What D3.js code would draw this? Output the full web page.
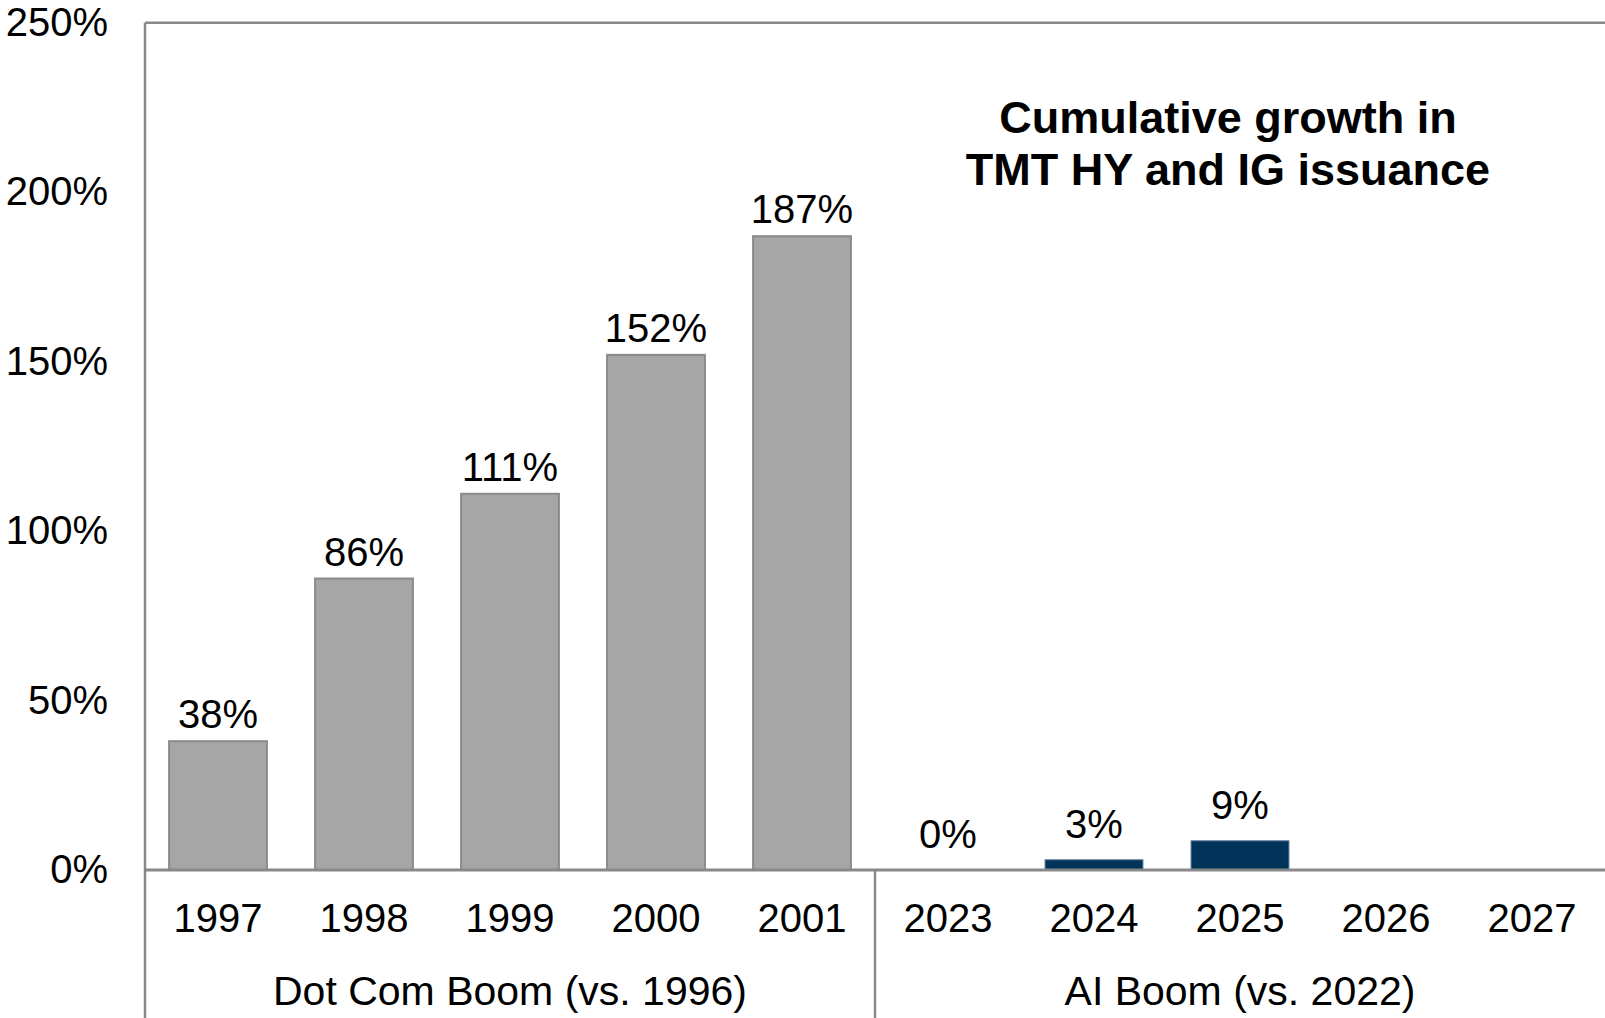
<!DOCTYPE html>
<html>
<head>
<meta charset="utf-8">
<script src="https://cdn.jsdelivr.net/npm/d3@7"></script>
<style>
  body { margin: 0; background: #fff; }
  text { font-family: "Liberation Sans", Arial, sans-serif; fill: #000; }
</style>
</head>
<body>
<div id="chart"></div>
<script>
// data
var years = ["1997", "1998", "1999", "2000", "2001", "2023", "2024", "2025", "2026", "2027"];
var growth = [38, 86, 111, 152, 187, 0, 3, 8.6, null, null];
var era = ["dot", "dot", "dot", "dot", "dot", "ai", "ai", "ai", "ai", "ai"];
var groups = ["Dot Com Boom (vs. 1996)", "AI Boom (vs. 2022)"];
var groupKeys = ["dot", "ai"];
var yTicks = [0, 50, 100, 150, 200, 250];
var titleLines = ["Cumulative growth in", "TMT HY and IG issuance"];

var fillColor = {dot: "#a6a6a6", ai: "#00345b"};
var strokeColor = {dot: "#898989", ai: "#4f6f8f"};
var lineColor = "#888";

// set the dimensions and margins of the graph
var width = 1605, height = 1018;
var margin = {top: 22.7, left: 145, right: 0, zero: 870};

var svg = d3.select("#chart")
  .append("svg")
    .attr("width", width)
    .attr("height", height);

var data = years.map(function(d, i) { return {year: d, value: growth[i], era: era[i]}; });

var slot = d3.scaleBand().domain(years).range([margin.left, width]);
var x = d3.scaleBand().domain(years).range([margin.left, width])
  .paddingInner(0.33).paddingOuter(0.165);
var y = d3.scaleLinear().domain([0, 250]).range([margin.zero, margin.top]);

// y axis labels
var yAxis = svg.append("g")
  .attr("transform", "translate(" + margin.left + ",0)")
  .call(d3.axisLeft(y).tickValues(yTicks).tickSize(0).tickPadding(37)
    .tickFormat(function(d) { return d + "%"; }));
yAxis.select(".domain").remove();
yAxis.selectAll("text").style("font-size", "40px").attr("font-family", null);

// bars
svg.selectAll("rect.bar")
  .data(data.filter(function(d) { return d.value !== null; }))
  .enter()
  .append("rect")
    .attr("class", "bar")
    .attr("x", function(d) { return x(d.year); })
    .attr("width", x.bandwidth())
    .attr("y", function(d) { return y(d.value); })
    .attr("height", function(d) { return y(0) - y(d.value); })
    .attr("fill", function(d) { return fillColor[d.era]; })
    .attr("stroke", function(d) { return strokeColor[d.era]; })
    .attr("stroke-width", function(d) { return d.era == "dot" ? 2 : 1; });

// value labels
svg.selectAll("text.val")
  .data(data.filter(function(d) { return d.value !== null; }))
  .enter()
  .append("text")
    .attr("class", "val")
    .attr("x", function(d) { return x(d.year) + x.bandwidth() / 2; })
    .attr("y", function(d) { return y(d.value) - (d.era == "dot" ? 13 : 22); })
    .attr("text-anchor", "middle")
    .style("font-size", "40px")
    .text(function(d) { return Math.round(d.value) + "%"; });

// frame lines
svg.append("line")
  .attr("x1", margin.left).attr("x2", width)
  .attr("y1", margin.top).attr("y2", margin.top)
  .attr("stroke", lineColor).attr("stroke-width", 2.5);
svg.append("line")
  .attr("x1", margin.left).attr("x2", margin.left)
  .attr("y1", margin.top).attr("y2", height)
  .attr("stroke", lineColor).attr("stroke-width", 2.5);

// category axis
var xAxis = svg.append("g")
  .attr("transform", "translate(0," + y(0) + ")")
  .call(d3.axisBottom(x).tickSize(0).tickPadding(34));
xAxis.select(".domain").remove();
xAxis.selectAll("text").style("font-size", "40px").attr("font-family", null);

svg.append("line")
  .attr("x1", margin.left).attr("x2", width)
  .attr("y1", y(0)).attr("y2", y(0))
  .attr("stroke", lineColor).attr("stroke-width", 3);

// group separator and labels
svg.append("line")
  .attr("x1", slot(years[5])).attr("x2", slot(years[5]))
  .attr("y1", y(0)).attr("y2", height)
  .attr("stroke", lineColor).attr("stroke-width", 2.5);

svg.selectAll("text.grp")
  .data(groups)
  .enter()
  .append("text")
    .attr("class", "grp")
    .attr("x", function(d, i) {
      var cats = years.filter(function(c, j) { return era[j] == groupKeys[i]; });
      return (slot(cats[0]) + slot(cats[cats.length - 1]) + slot.bandwidth()) / 2;
    })
    .attr("y", 1005)
    .attr("text-anchor", "middle")
    .style("font-size", "41px")
    .text(function(d) { return d; });

// title
svg.append("text")
  .attr("x", 1228)
  .attr("y", 133)
  .attr("text-anchor", "middle")
  .style("font-size", "45px")
  .style("font-weight", "bold")
  .selectAll("tspan")
  .data(titleLines)
  .enter()
  .append("tspan")
    .attr("x", 1228)
    .attr("dy", function(d, i) { return i ? 52 : 0; })
    .text(function(d) { return d; });
</script>
</body>
</html>
